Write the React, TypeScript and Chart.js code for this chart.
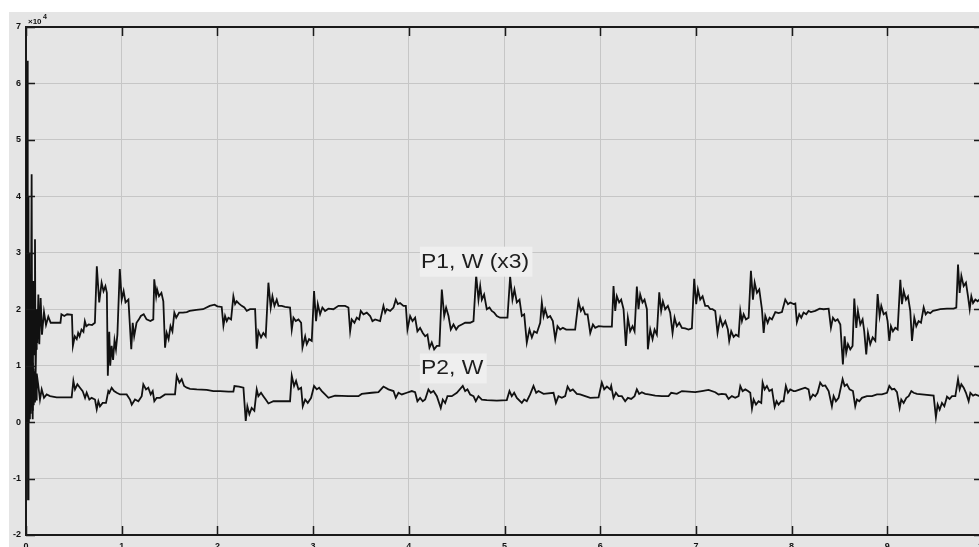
import { useEffect, useRef } from 'react';
import { Chart, registerables } from 'chart.js';

Chart.register(...registerables);

// time axis ticks (s) and power axis ticks (W)
const timeTicks = [0, 1, 2, 3, 4, 5, 6, 7, 8, 9, 10];
const powerTicks = [-20000, -10000, 0, 10000, 20000, 30000, 40000, 50000, 60000, 70000];

const p1Label = 'P1, W (x3)';
const p2Label = 'P2, W';

// [time s, power W]
const p1Samples: [number, number][] = [
  [0, 0], [0.005, 30000], [0.009, 5000], [0.014, 64000], [0.018, 10000], [0.021, -13700], [0.025, 40000], [0.028, 2000], [0.032, 30000], [0.035, 3000], [0.042, 20000], [0.049, 8000], [0.059, 43900], [0.065, 5000], [0.07, 500], [0.077, 25000], [0.084, 12000], [0.094, 32400], [0.1, 8000], [0.105, 13000], [0.112, 20000], [0.118, 14000], [0.129, 22600], [0.139, 13800], [0.153, 22000], [0.167, 15500], [0.188, 19500], [0.209, 17200], [0.233, 18700], [0.258, 17600],
  [0.3, 17600], [0.36, 17600], [0.37, 19100], [0.4, 18800], [0.43, 19100], [0.48, 19000], [0.49, 13500], [0.51, 15200], [0.53, 14700], [0.545, 15800], [0.56, 15200], [0.58, 16400], [0.6, 16000], [0.615, 17900], [0.63, 17000], [0.655, 17300], [0.69, 17200], [0.72, 17600], [0.74, 27600], [0.765, 21200], [0.79, 24700], [0.81, 23200], [0.83, 24100], [0.845, 22900], [0.855, 8200], [0.87, 16000], [0.88, 10000], [0.895, 13500], [0.91, 11000], [0.925, 14500], [0.94, 12900], [0.955, 15500], [0.98, 27100], [1.0, 21700], [1.02, 23200], [1.04, 21200], [1.07, 21700], [1.1, 12900], [1.115, 17600], [1.13, 15200], [1.155, 17600], [1.18, 18200], [1.2, 18800], [1.23, 19100], [1.26, 18200], [1.3, 17900], [1.33, 18200], [1.34, 25300], [1.36, 22300], [1.37, 23500], [1.39, 22300], [1.415, 22900], [1.435, 21400], [1.453, 13200], [1.47, 15800], [1.49, 14700], [1.51, 17000], [1.53, 16100], [1.55, 19400], [1.57, 18500], [1.6, 19400], [1.64, 19400], [1.68, 19500], [1.71, 19700], [1.78, 19900], [1.85, 20000], [1.92, 20600], [1.97, 20800], [2.0, 20500],
  [2.045, 20400], [2.063, 17100], [2.08, 18800], [2.098, 17900], [2.115, 18500], [2.143, 18200], [2.167, 22300], [2.185, 20900], [2.202, 21400], [2.226, 21000], [2.254, 20600], [2.282, 20300], [2.307, 19700], [2.341, 20000], [2.394, 20000], [2.411, 13000], [2.428, 16100], [2.456, 15000], [2.48, 15800], [2.505, 15200], [2.533, 24700], [2.557, 20300], [2.575, 22300], [2.596, 20600], [2.62, 21700], [2.638, 20600], [2.672, 20600], [2.707, 20400], [2.759, 20300], [2.777, 16400], [2.795, 18500], [2.819, 17900], [2.847, 18200], [2.875, 17600], [2.889, 13200], [2.917, 15200], [2.934, 13800], [2.958, 14700], [2.986, 14400], [3.01, 23200], [3.031, 17900], [3.049, 20900], [3.073, 19100], [3.097, 20300], [3.125, 19700], [3.16, 20100], [3.212, 20000], [3.265, 20600], [3.334, 20600], [3.369, 20300], [3.387, 16100], [3.404, 18200], [3.432, 17600], [3.456, 18500], [3.481, 18200], [3.498, 19700], [3.526, 19100], [3.561, 19400], [3.596, 18800], [3.62, 17900], [3.648, 18200], [3.7, 17900], [3.735, 20600], [3.753, 19400], [3.77, 20000], [3.805, 19700], [3.84, 20300], [3.864, 21700], [3.885, 20900], [3.909, 21100], [3.944, 20600], [3.969, 20600], [3.986, 16400], [4.014, 18800], [4.039, 17900], [4.066, 18500],
  [4.09, 16100], [4.118, 16700], [4.146, 15800], [4.171, 15200], [4.195, 15500], [4.216, 13200], [4.24, 14100], [4.265, 12900], [4.293, 13500], [4.32, 13500], [4.345, 23500], [4.37, 18800], [4.39, 20300], [4.415, 18800], [4.439, 16400], [4.467, 17300], [4.495, 16400], [4.519, 17000], [4.554, 17300], [4.589, 17600], [4.641, 17600], [4.676, 17900], [4.704, 26000], [4.728, 21700], [4.746, 24100], [4.763, 21700], [4.787, 22600], [4.815, 20000], [4.843, 20300], [4.867, 19700], [4.892, 19400], [4.92, 18800], [4.954, 18500], [4.989, 18500], [5.031, 18500], [5.059, 25800], [5.083, 21700], [5.104, 23500], [5.129, 21200], [5.157, 21700], [5.181, 18800], [5.206, 19100], [5.233, 14100], [5.261, 16400], [5.286, 15000], [5.31, 16100], [5.338, 15800], [5.373, 17600], [5.39, 21200], [5.408, 18800], [5.425, 20000], [5.45, 18500], [5.477, 18800], [5.505, 17900], [5.53, 14700], [5.554, 17000], [5.582, 16400], [5.61, 16700], [5.645, 16400], [5.686, 16400], [5.738, 16400], [5.773, 21400], [5.798, 19700], [5.819, 20300], [5.843, 19100], [5.868, 19100], [5.896, 15800], [5.924, 17300], [5.948, 16700], [5.983, 17000], [6.035, 16900], [6.105, 16900],
  [6.122, 16900], [6.139, 24100], [6.157, 19700], [6.174, 22300], [6.198, 21200], [6.219, 21700], [6.244, 20000], [6.268, 13500], [6.289, 18500], [6.313, 16100], [6.338, 17000], [6.359, 16100], [6.383, 24000], [6.4, 20000], [6.418, 22600], [6.442, 21200], [6.463, 21700], [6.488, 20000], [6.498, 12900], [6.523, 16400], [6.547, 14700], [6.568, 16400], [6.592, 15500], [6.617, 23000], [6.637, 19700], [6.655, 21400], [6.679, 20000], [6.707, 20600], [6.731, 19400], [6.756, 15800], [6.777, 18500], [6.801, 17000], [6.826, 17600], [6.854, 16700], [6.889, 16600], [6.923, 16400], [6.958, 16600], [6.982, 25400], [7.003, 20900], [7.021, 23500], [7.045, 21700], [7.07, 22300], [7.097, 20600], [7.125, 20600], [7.15, 20000], [7.174, 20000], [7.202, 19700], [7.226, 15800], [7.254, 18500], [7.279, 17000], [7.307, 17900], [7.334, 16400], [7.348, 14400], [7.369, 16100], [7.394, 15100], [7.418, 15500], [7.446, 15200], [7.464, 19700], [7.481, 17900], [7.499, 19100], [7.523, 18200], [7.551, 18500], [7.575, 26800], [7.596, 21700], [7.614, 24700], [7.638, 22900], [7.662, 23500], [7.69, 20000], [7.708, 15800], [7.725, 18800], [7.75, 17600], [7.77, 18500], [7.795, 18200], [7.83, 19500], [7.864, 19300], [7.899, 19500], [7.934, 21700], [7.962, 20900], [7.986, 21200], [8.021, 20900], [8.039, 21000],
  [8.055, 17700], [8.08, 19100], [8.101, 18500], [8.125, 19400], [8.153, 19100], [8.177, 19700], [8.202, 19500], [8.247, 19700], [8.293, 20100], [8.334, 20000], [8.387, 20100], [8.411, 16700], [8.432, 18500], [8.456, 17900], [8.481, 18200], [8.509, 17300], [8.536, 10200], [8.554, 15200], [8.571, 12300], [8.589, 13800], [8.613, 12900], [8.637, 13500], [8.655, 21900], [8.676, 16700], [8.693, 19700], [8.718, 17300], [8.742, 18200], [8.759, 16100], [8.78, 12000], [8.798, 15800], [8.822, 13800], [8.847, 15000], [8.875, 14400], [8.899, 22700], [8.92, 18800], [8.937, 20600], [8.962, 19100], [8.986, 19400], [9.003, 17900], [9.021, 14400], [9.038, 17000], [9.059, 16100], [9.083, 16700], [9.108, 16400], [9.136, 25200], [9.153, 20900], [9.171, 23200], [9.195, 21700], [9.216, 22300], [9.24, 19700], [9.258, 14400], [9.282, 18500], [9.303, 17000], [9.327, 17900], [9.352, 17600], [9.38, 20300], [9.401, 19100], [9.421, 19500], [9.449, 19300], [9.477, 19700], [9.501, 19800], [9.554, 20000], [9.624, 20100], [9.693, 20100], [9.721, 20300], [9.739, 27900], [9.756, 22900], [9.774, 25900], [9.798, 24100], [9.822, 24700], [9.843, 22300], [9.861, 20000], [9.878, 22300], [9.896, 21100], [9.92, 21700], [9.944, 21400], [9.962, 21700], [10, 21500],
];

const p2Samples: [number, number][] = [
  [0, 0], [0.007, 9000], [0.011, 1000], [0.016, 13000], [0.021, 0], [0.026, 11000], [0.031, 2000], [0.036, 12500], [0.041, 500], [0.046, 11000], [0.051, 1500], [0.056, 12000], [0.061, 3000], [0.066, 10500], [0.071, 2000], [0.076, 9500], [0.081, 3000], [0.087, 9000], [0.094, 3500], [0.1, 8000], [0.106, 4000], [0.112, 8600], [0.129, 6400], [0.146, 4000], [0.164, 5800], [0.188, 4300], [0.216, 4900], [0.251, 4600], [0.32, 4400], [0.39, 4400], [0.477, 4400],
  [0.495, 7300], [0.512, 5800], [0.537, 6700], [0.564, 6100], [0.592, 5500], [0.617, 4300], [0.634, 5200], [0.662, 4000], [0.686, 4300], [0.721, 4000], [0.739, 2300], [0.756, 3700], [0.773, 2800], [0.801, 3400], [0.836, 3400], [0.86, 5500], [0.871, 5200], [0.895, 6100], [0.92, 5500], [0.948, 5200], [0.983, 4900], [1.052, 4900], [1.087, 4000], [1.105, 3100], [1.139, 4000], [1.174, 3700], [1.209, 4600], [1.226, 6700], [1.254, 5800], [1.278, 6100], [1.303, 4900], [1.324, 5500], [1.341, 3700], [1.366, 4300], [1.401, 4300], [1.453, 4900], [1.557, 4900], [1.575, 8200], [1.603, 7000], [1.627, 7600], [1.652, 6400], [1.68, 6100], [1.714, 5900], [1.784, 5800], [1.888, 5700], [1.958, 5500], [2.028, 5500],
  [2.115, 5400], [2.167, 5400], [2.178, 6400], [2.226, 6300], [2.272, 6100], [2.296, 200], [2.313, 2800], [2.334, 1400], [2.358, 2500], [2.386, 2000], [2.411, 5800], [2.428, 4600], [2.456, 5200], [2.48, 4600], [2.505, 4000], [2.533, 3300], [2.585, 3700], [2.672, 3700], [2.759, 3700], [2.777, 8200], [2.801, 6400], [2.822, 7300], [2.847, 5800], [2.875, 6100], [2.892, 2800], [2.917, 4000], [2.944, 3400], [2.979, 4300], [3.01, 6400], [3.038, 5800], [3.063, 6100], [3.091, 5500], [3.125, 4900], [3.16, 4300], [3.23, 4700], [3.369, 4600], [3.474, 4600], [3.508, 5000], [3.613, 5200], [3.683, 5300], [3.735, 6300], [3.787, 5800], [3.84, 5500], [3.864, 4300], [3.892, 5200], [3.927, 4900], [3.979, 5200], [4.031, 5500], [4.066, 5300],
  [4.09, 3700], [4.118, 4300], [4.146, 3700], [4.171, 4000], [4.205, 5800], [4.23, 5200], [4.258, 5500], [4.293, 4600], [4.334, 2500], [4.355, 4000], [4.38, 3400], [4.404, 4600], [4.449, 4600], [4.502, 5200], [4.564, 6400], [4.589, 5500], [4.613, 5800], [4.641, 4900], [4.676, 4600], [4.7, 3700], [4.728, 4600], [4.763, 4000], [4.815, 3900], [4.92, 3800], [5.024, 3900], [5.052, 5500], [5.076, 4600], [5.101, 5200], [5.129, 4300], [5.181, 3400], [5.206, 4000], [5.233, 3700], [5.268, 4900], [5.303, 6400], [5.331, 5200], [5.355, 5500], [5.408, 5000], [5.512, 5200], [5.537, 3400], [5.564, 4600], [5.599, 4300], [5.634, 4600], [5.659, 6300], [5.686, 5500], [5.714, 5800], [5.756, 5000], [5.79, 4900], [5.843, 4600], [5.896, 4300], [5.983, 4400], [6.017, 7000], [6.042, 5800], [6.07, 6300], [6.105, 5800],
  [6.115, 6400], [6.139, 4300], [6.164, 5200], [6.191, 4600], [6.226, 4600], [6.261, 3700], [6.289, 4300], [6.324, 4100], [6.359, 4600], [6.383, 5800], [6.407, 5000], [6.435, 5300], [6.47, 5000], [6.505, 4900], [6.575, 4700], [6.644, 4600], [6.714, 4600], [6.742, 5200], [6.801, 5000], [6.854, 5500], [6.923, 5400], [6.993, 5300], [7.062, 5500], [7.132, 5700], [7.202, 5300], [7.237, 4900], [7.271, 5000], [7.313, 4900], [7.341, 4100], [7.376, 4600], [7.411, 4300], [7.446, 4600], [7.464, 6400], [7.488, 5500], [7.516, 5800], [7.544, 5500], [7.568, 5200], [7.586, 2400], [7.603, 4000], [7.628, 3100], [7.655, 3700], [7.683, 3400], [7.697, 7000], [7.718, 5800], [7.742, 6400], [7.767, 5500], [7.795, 5800], [7.823, 2700], [7.843, 3700], [7.864, 3100], [7.892, 3700], [7.916, 3700], [7.94, 6400], [7.962, 5200], [7.986, 5800], [8.021, 5500], [8.039, 5500],
  [8.09, 5800], [8.142, 6100], [8.177, 5800], [8.195, 4100], [8.223, 4900], [8.247, 4600], [8.271, 5200], [8.299, 7000], [8.324, 6400], [8.352, 6500], [8.387, 5500], [8.421, 2800], [8.439, 4600], [8.463, 3700], [8.491, 4300], [8.533, 7600], [8.554, 6400], [8.578, 6700], [8.606, 5800], [8.641, 5500], [8.665, 2800], [8.683, 4000], [8.707, 3700], [8.735, 4300], [8.787, 4600], [8.84, 4600], [8.892, 4900], [8.944, 4900], [8.997, 5200], [9.021, 6400], [9.048, 5800], [9.073, 5900], [9.101, 5300], [9.129, 2500], [9.146, 4000], [9.171, 3400], [9.199, 4300], [9.223, 4600], [9.251, 5500], [9.275, 5200], [9.31, 5000], [9.362, 4900], [9.484, 4700], [9.508, 900], [9.526, 3100], [9.547, 2200], [9.571, 3400], [9.596, 2800], [9.624, 4500], [9.651, 4100], [9.676, 4600], [9.711, 4600], [9.739, 7600], [9.756, 5800], [9.774, 6700], [9.798, 6100], [9.822, 5200], [9.85, 3700], [9.868, 5200], [9.896, 4700], [9.92, 4900], [9.962, 4600], [10, 4700],
];

// where the series name tags sit, in data coordinates
const seriesTags = [
  { text: p1Label, t: 4.128, w: 27360 },
  { text: p2Label, t: 4.128, w: 8450 },
];

const FONT = '"Liberation Sans", Arial, Helvetica, sans-serif';

const framePlugin = {
  id: 'scopeFrame',
  afterDatasetsDraw(chart: any) {
    const { ctx, chartArea: a, scales } = chart;
    const xs = scales.x;
    const ys = scales.y;
    ctx.save();

    // series tags
    ctx.font = `21px ${FONT}`;
    ctx.textBaseline = 'alphabetic';
    ctx.textAlign = 'left';
    seriesTags.forEach((tag) => {
      const px = xs.getPixelForValue(tag.t);
      const py = ys.getPixelForValue(tag.w);
      ctx.save();
      ctx.translate(px, py);
      ctx.scale(1.09, 1);
      const w = ctx.measureText(tag.text).width;
      ctx.fillStyle = '#efefef';
      ctx.fillRect(-1, -21, w + 4, 30);
      ctx.fillStyle = '#1e1e1e';
      ctx.fillText(tag.text, 0, 0);
      ctx.restore();
    });

    // top and right frame lines
    ctx.strokeStyle = '#1a1a1a';
    ctx.lineWidth = 2;
    ctx.beginPath();
    ctx.moveTo(a.left, a.top);
    ctx.lineTo(a.right, a.top);
    ctx.lineTo(a.right, a.bottom);
    ctx.stroke();

    // inward tick marks
    ctx.lineWidth = 1.5;
    ctx.beginPath();
    xs.ticks.forEach((t: any) => {
      const px = Math.round(xs.getPixelForValue(t.value)) + 0.5;
      ctx.moveTo(px, a.bottom);
      ctx.lineTo(px, a.bottom - 9);
      ctx.moveTo(px, a.top);
      ctx.lineTo(px, a.top + 9);
    });
    ys.ticks.forEach((t: any) => {
      const py = Math.round(ys.getPixelForValue(t.value)) + 0.5;
      ctx.moveTo(a.left, py);
      ctx.lineTo(a.left + 9, py);
      ctx.moveTo(a.right, py);
      ctx.lineTo(a.right - 9, py);
    });
    ctx.stroke();

    // exponent
    ctx.fillStyle = '#111';
    ctx.font = `bold 8px ${FONT}`;
    ctx.fillText('\u00d710', a.left + 2, a.top - 3);
    ctx.font = `bold 7px ${FONT}`;
    ctx.fillText('4', a.left + 17, a.top - 8);

    ctx.restore();
  },
};

export default function App() {
  const ref = useRef<HTMLCanvasElement | null>(null);

  useEffect(() => {
    if (!ref.current) return;
    const tickFont = { family: FONT, size: 9, weight: 'bold' as const };
    const chart = new Chart(ref.current, {
      type: 'scatter',
      data: {
        datasets: [
          {
            label: p1Label,
            data: p1Samples.map(([t, w]) => ({ x: t, y: w })),
            showLine: true,
            borderColor: '#111111',
            borderWidth: 1.8,
            pointRadius: 0,
            tension: 0,
          },
          {
            label: p2Label,
            data: p2Samples.map(([t, w]) => ({ x: t, y: w })),
            showLine: true,
            borderColor: '#111111',
            borderWidth: 1.8,
            pointRadius: 0,
            tension: 0,
          },
        ],
      },
      options: {
        animation: false,
        responsive: false,
        maintainAspectRatio: false,
        layout: { padding: { top: 15, right: 16, left: 0, bottom: 0 } },
        plugins: { legend: { display: false }, tooltip: { enabled: false } },
        scales: {
          x: {
            type: 'linear',
            min: 0,
            max: 10,
            afterBuildTicks: (s: any) => {
              s.ticks = timeTicks.map((v) => ({ value: v }));
            },
            afterFit: (s: any) => {
              s.height = 12;
            },
            ticks: {
              autoSkip: false,
              maxRotation: 0,
              padding: 6,
              color: '#111',
              font: tickFont,
              callback: (v: any) => String(v),
            },
            grid: { color: '#c6c6c6', lineWidth: 1, drawTicks: false },
            border: { color: '#1a1a1a', width: 2 },
          },
          y: {
            type: 'linear',
            min: -20000,
            max: 70000,
            afterBuildTicks: (s: any) => {
              s.ticks = powerTicks.map((v) => ({ value: v }));
            },
            afterFit: (s: any) => {
              s.width = 17;
            },
            ticks: {
              padding: 5,
              color: '#111',
              font: tickFont,
              callback: (v: any) => String(Number(v) / 10000),
            },
            grid: { color: '#c6c6c6', lineWidth: 1, drawTicks: false },
            border: { color: '#1a1a1a', width: 2 },
          },
        },
      },
      plugins: [framePlugin],
    } as any);
    return () => chart.destroy();
  }, []);

  return (
    <div
      style={{
        position: 'absolute',
        left: 9,
        top: 12,
        width: 970,
        height: 535,
        overflow: 'hidden',
        background: '#e5e5e5',
      }}
    >
      <canvas ref={ref} width={990} height={535} style={{ display: 'block' }} />
    </div>
  );
}
